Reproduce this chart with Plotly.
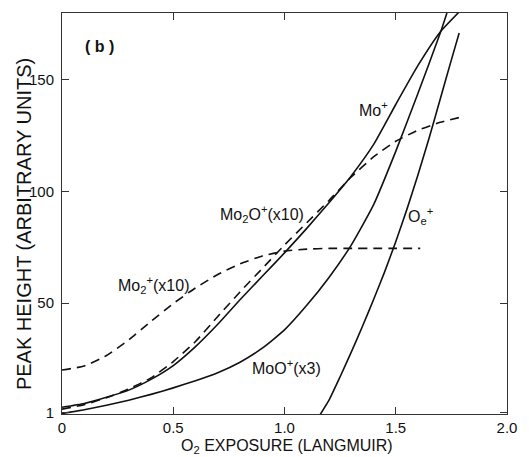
import plotly.graph_objects as go

# O2 exposure (Langmuir) and peak heights (arbitrary units) for each ion
mo_x = [0, 0.1, 0.2, 0.3, 0.4, 0.5, 0.6, 0.7, 0.8, 0.9, 1.0, 1.1, 1.2, 1.3, 1.4, 1.5, 1.6, 1.7, 1.79]
mo_y = [3.3, 5, 7.8, 11, 15.8, 22, 30.5, 40.5, 51.5, 62, 72.5, 83.5, 95, 107, 121, 139, 156.5, 171.5, 181]

mo2o_x = [0, 0.1, 0.2, 0.3, 0.4, 0.5, 0.6, 0.7, 0.8, 0.9, 1.0, 1.1, 1.2, 1.3, 1.4, 1.5, 1.6, 1.7, 1.8]
mo2o_y = [2.5, 4.5, 7.6, 11.5, 16.5, 23.8, 32.8, 44, 55, 65.5, 76, 86, 96, 106.5, 115.5, 122.5, 127.5, 131, 133.5]

mo2_x = [0, 0.1, 0.2, 0.3, 0.4, 0.5, 0.6, 0.7, 0.8, 0.9, 1.0, 1.1, 1.2, 1.3, 1.4, 1.5, 1.61]
mo2_y = [20, 21.8, 26.5, 33.5, 41.8, 49.8, 56.8, 62.8, 67.6, 71.1, 73.3, 74.2, 74.5, 74.5, 74.5, 74.5, 74.5]

moo_x = [0, 0.1, 0.2, 0.3, 0.4, 0.5, 0.6, 0.7, 0.8, 0.9, 1.0, 1.1, 1.2, 1.3, 1.4, 1.5, 1.6, 1.7, 1.73]
moo_y = [0.5, 2.2, 4.2, 6.5, 9.1, 12, 15.2, 18.8, 23.5, 29.8, 38, 49, 61.5, 76, 94, 118, 144, 171, 180]

oe_x = [1.16, 1.2, 1.25, 1.3, 1.35, 1.4, 1.45, 1.5, 1.55, 1.6, 1.65, 1.7, 1.75, 1.785]
oe_y = [0, 6.5, 17, 28, 39.5, 51.5, 64, 77.5, 92, 107.5, 124, 141.5, 159, 171]

x_ticks = [0, 0.5, 1.0, 1.5, 2.0]
x_tick_text = ["0", "0.5", "1.0", "1.5", "2.0"]
y_ticks = [1, 50, 100, 150]
y_tick_text = ["1", "50", "100", "150"]

FONT = "Liberation Sans, Arial, sans-serif"
INK = "#111111"

series = [
    (mo_x, mo_y, "solid"),
    (mo2o_x, mo2o_y, "9px,6px"),
    (mo2_x, mo2_y, "9px,6px"),
    (moo_x, moo_y, "solid"),
    (oe_x, oe_y, "solid"),
]

fig = go.Figure()
for xs, ys, dash in series:
    fig.add_trace(go.Scatter(
        x=xs, y=ys, mode="lines",
        line=dict(color=INK, width=1.6, dash=dash, shape="spline", smoothing=0.5),
        showlegend=False, hoverinfo="skip",
    ))

labels = [
    (0.17, 165, "<b>( b )</b>"),
    (1.40, 137, "Mo<sup>+</sup>"),
    (0.90, 90, "Mo<sub>2</sub>O<sup>+</sup>(x10)"),
    (0.41, 58, "Mo<sub>2</sub><sup>+</sup>(x10)"),
    (1.01, 21.5, "MoO<sup>+</sup>(x3)"),
    (1.61, 89, "O<sub>e</sub><sup>+</sup>"),
]
for lx, ly, txt in labels:
    fig.add_annotation(x=lx, y=ly, text=txt, showarrow=False,
                       font=dict(family=FONT, size=16, color=INK))

axis_common = dict(
    showline=True, linecolor="#333333", linewidth=1, mirror="ticks",
    ticks="inside", ticklen=7, tickwidth=1, tickcolor="#333333",
    showgrid=False, zeroline=False,
    tickfont=dict(family=FONT, size=15, color=INK),
)

fig.update_xaxes(range=[0, 2.0], tickvals=x_ticks, ticktext=x_tick_text,
                 ticklabelstandoff=0, **axis_common)
fig.update_yaxes(range=[0.3, 180], tickvals=y_ticks, ticktext=y_tick_text,
                 ticklabelstandoff=4, **axis_common)

fig.add_annotation(xref="paper", yref="paper", x=0.506, y=-0.082,
                   text="O<sub>2</sub> EXPOSURE (LANGMUIR)", showarrow=False,
                   xanchor="center", yanchor="middle",
                   font=dict(family=FONT, size=16, color=INK))
fig.add_annotation(xref="paper", yref="paper", x=-0.085, y=0.474,
                   text="PEAK HEIGHT (ARBITRARY UNITS)", showarrow=False,
                   textangle=-90, xanchor="center", yanchor="middle",
                   font=dict(family=FONT, size=20, color=INK))

fig.update_layout(
    width=529, height=457,
    margin=dict(l=62, r=13, t=13, b=43),
    paper_bgcolor="white", plot_bgcolor="white",
)

fig.write_html("out.html")
